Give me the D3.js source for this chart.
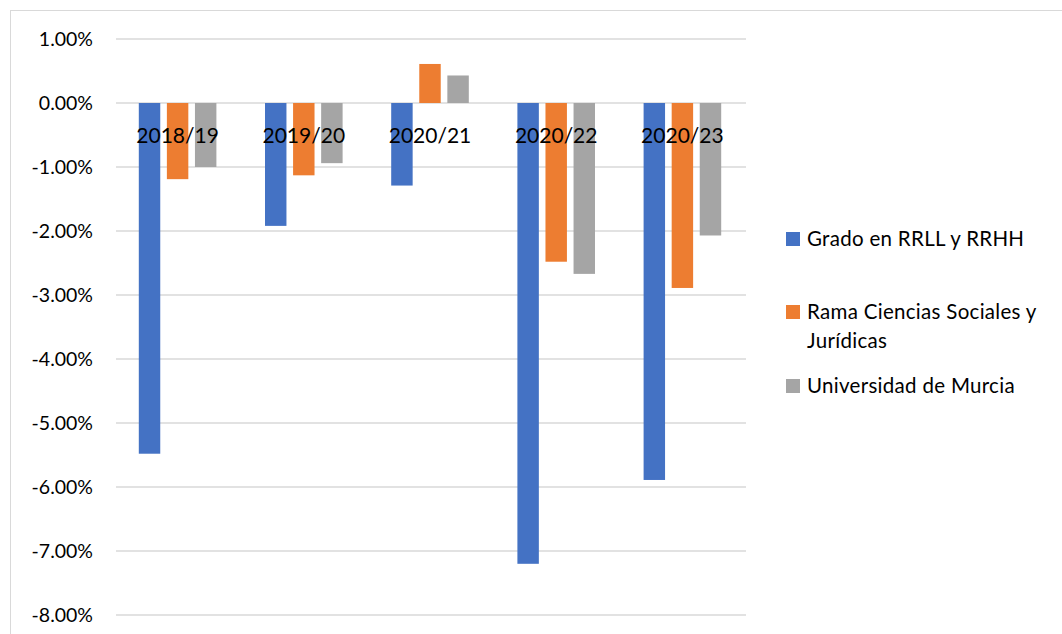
<!DOCTYPE html>
<html>
<head>
<meta charset="utf-8">
<script src="https://cdn.jsdelivr.net/npm/d3@7"></script>
<style>
  html, body { margin: 0; padding: 0; background: #fff; }
  svg { display: block; }
  text { font-family: Lato, "Open Sans", sans-serif; fill: #000; }
</style>
</head>
<body>
<svg id="chart" width="1062" height="634"></svg>
<script>
const categories = ["2018/19", "2019/20", "2020/21", "2020/22", "2020/23"];
const seriesNames = ["Grado en RRLL y RRHH", "Rama Ciencias Sociales y Jurídicas", "Universidad de Murcia"];
const grado = [-5.48, -1.92, -1.29, -7.20, -5.89];
const rama = [-1.19, -1.13, 0.61, -2.48, -2.89];
const universidad = [-1.00, -0.94, 0.43, -2.67, -2.07];
const yTicks = [1, 0, -1, -2, -3, -4, -5, -6, -7, -8];
const colors = ["#4472C4", "#ED7D31", "#A5A5A5"];

const seriesValues = [grado, rama, universidad];
const svg = d3.select("#chart");

// chart area border (top and left visible)
svg.append("rect")
  .attr("x", 10.5).attr("y", 10.5)
  .attr("width", 1100).attr("height", 700)
  .attr("fill", "none").attr("stroke", "#D9D9D9").attr("stroke-width", 1);

const y = d3.scaleLinear().domain([-8, 1]).range([615, 39]);
const x0 = d3.scaleBand().domain(categories).range([114.5, 745.5]).paddingInner(0).paddingOuter(0);
const groupPad = 24.3;
const x1 = d3.scaleBand().domain(d3.range(seriesValues.length))
  .range([groupPad, x0.bandwidth() - groupPad]).paddingInner(0.236).paddingOuter(0);

// gridlines
svg.append("g").selectAll("line").data(yTicks).join("line")
  .attr("x1", 116).attr("x2", 746)
  .attr("y1", d => y(d)).attr("y2", d => y(d))
  .attr("stroke", "#D9D9D9").attr("stroke-width", 1.3);

// y axis labels
const fmt = d => d3.format(".2f")(d).replace("\u2212", "-") + "%";
svg.append("g").selectAll("text").data(yTicks).join("text")
  .attr("x", 93).attr("y", d => y(d) + 7)
  .attr("text-anchor", "end")
  .attr("font-size", 19.5)
  .text(d => fmt(d));

// bars
const rows = [];
categories.forEach((c, i) => {
  seriesValues.forEach((vals, s) => rows.push({ cat: c, s: s, v: vals[i] }));
});
svg.append("g").selectAll("rect").data(rows).join("rect")
  .attr("x", d => x0(d.cat) + x1(d.s))
  .attr("width", x1.bandwidth())
  .attr("y", d => y(Math.max(0, d.v)))
  .attr("height", d => Math.abs(y(d.v) - y(0)))
  .attr("fill", d => colors[d.s]);

// category labels (next to axis, over bars)
svg.append("g").selectAll("text").data(categories).join("text")
  .attr("x", d => x0(d) + x0.bandwidth() / 2)
  .attr("y", 143)
  .attr("text-anchor", "middle")
  .attr("font-size", 21)
  .text(d => d);

// legend
const legendItems = [
  { lines: ["Grado en RRLL y RRHH"], y: 239 },
  { lines: ["Rama Ciencias Sociales y", "Jurídicas"], y: 312 },
  { lines: ["Universidad de Murcia"], y: 386 }
];
const lg = svg.append("g");
legendItems.forEach((item, i) => {
  lg.append("rect")
    .attr("x", 786).attr("y", item.y - 7)
    .attr("width", 14).attr("height", 14)
    .attr("fill", colors[i]);
  const t = lg.append("text")
    .attr("x", 807).attr("y", item.y + 7)
    .attr("font-size", 20.5)
    .attr("letter-spacing", 0.3);
  item.lines.forEach((ln, k) => {
    t.append("tspan").attr("x", 807).attr("dy", k === 0 ? 0 : 29).text(ln);
  });
});
</script>
</body>
</html>
